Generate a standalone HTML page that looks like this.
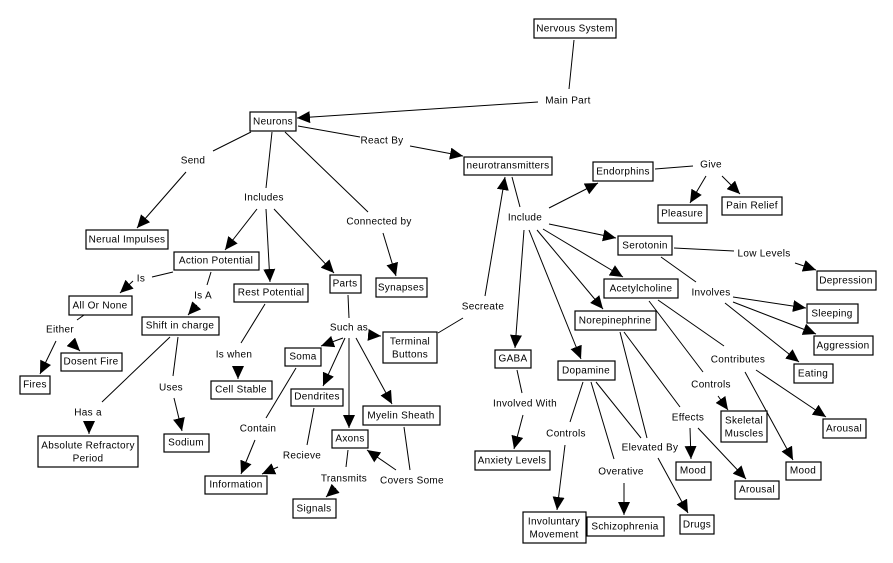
<!DOCTYPE html>
<html><head><meta charset="utf-8"><style>
html,body{margin:0;padding:0;background:#fff;}
svg{display:block;}
text{font-family:"Liberation Sans",Arial,sans-serif;font-size:10px;fill:#000;text-anchor:middle;dominant-baseline:central;letter-spacing:0.3px;}
rect{fill:#fff;stroke:#000;stroke-width:1.2;}
line{stroke:#000;stroke-width:1;}
</style></head><body>
<svg width="893" height="563" viewBox="0 0 893 563" xmlns="http://www.w3.org/2000/svg">
<defs><marker id="a" markerUnits="userSpaceOnUse" markerWidth="14" markerHeight="12" refX="13" refY="6" orient="auto"><path d="M0,0 L13,6 L0,12 z" fill="#000"/></marker></defs>
<g>
<!-- plain lines -->
<line x1="574" y1="40" x2="569" y2="89"/>
<line x1="298" y1="126" x2="360" y2="137"/>
<line x1="251" y1="132" x2="213" y2="151"/>
<line x1="272" y1="132" x2="266" y2="188"/>
<line x1="285" y1="132" x2="368" y2="212"/>
<line x1="173" y1="272" x2="152" y2="277"/>
<line x1="211" y1="272" x2="207" y2="285"/>
<line x1="84" y1="315" x2="77" y2="320"/>
<line x1="170" y1="337" x2="102" y2="402"/>
<line x1="178" y1="337" x2="173" y2="376"/>
<line x1="265" y1="304" x2="241" y2="343"/>
<line x1="348" y1="295" x2="349" y2="318"/>
<line x1="296" y1="368" x2="266" y2="418"/>
<line x1="314" y1="408" x2="307" y2="445"/>
<line x1="348" y1="450" x2="346" y2="467"/>
<line x1="404" y1="427" x2="410" y2="470"/>
<line x1="438" y1="333" x2="463" y2="318"/>
<line x1="512" y1="177" x2="520" y2="207"/>
<line x1="655" y1="169" x2="693" y2="166"/>
<line x1="674" y1="248" x2="734" y2="251"/>
<line x1="661" y1="257" x2="696" y2="282"/>
<line x1="658" y1="300" x2="724" y2="346"/>
<line x1="649" y1="301" x2="703" y2="372"/>
<line x1="624" y1="332" x2="680" y2="407"/>
<line x1="620" y1="332" x2="647" y2="438"/>
<line x1="596" y1="382" x2="641" y2="438"/>
<line x1="583" y1="382" x2="570" y2="422"/>
<line x1="591" y1="382" x2="614" y2="459"/>
<line x1="517" y1="370" x2="522" y2="393"/>
<!-- arrows -->
<g marker-end="url(#a)">
<line x1="538" y1="102" x2="297" y2="118"/>
<line x1="410" y1="146" x2="463" y2="156"/>
<line x1="186" y1="172" x2="137" y2="228"/>
<line x1="257" y1="209" x2="225" y2="250"/>
<line x1="266" y1="209" x2="270" y2="282"/>
<line x1="274" y1="209" x2="334" y2="273"/>
<line x1="383" y1="233" x2="396" y2="276"/>
<line x1="133" y1="281" x2="120" y2="293"/>
<line x1="197" y1="305" x2="188" y2="315"/>
<line x1="56" y1="341" x2="40" y2="374"/>
<line x1="71" y1="342" x2="80" y2="351"/>
<line x1="89" y1="424" x2="89" y2="434"/>
<line x1="174" y1="398" x2="182" y2="431"/>
<line x1="238" y1="366" x2="238" y2="379"/>
<line x1="343" y1="338" x2="321" y2="346"/>
<line x1="369" y1="335" x2="381" y2="336"/>
<line x1="345" y1="338" x2="323" y2="386"/>
<line x1="349" y1="338" x2="349" y2="428"/>
<line x1="356" y1="338" x2="392" y2="404"/>
<line x1="255" y1="440" x2="241" y2="474"/>
<line x1="278" y1="467" x2="262" y2="474"/>
<line x1="336" y1="488" x2="326" y2="497"/>
<line x1="396" y1="470" x2="367" y2="450"/>
<line x1="485" y1="296" x2="505" y2="177"/>
<line x1="549" y1="208" x2="598" y2="183"/>
<line x1="549" y1="224" x2="616" y2="238"/>
<line x1="543" y1="229" x2="623" y2="277"/>
<line x1="537" y1="230" x2="603" y2="309"/>
<line x1="524" y1="230" x2="515" y2="348"/>
<line x1="529" y1="230" x2="581" y2="359"/>
<line x1="706" y1="176" x2="690" y2="203"/>
<line x1="722" y1="176" x2="740" y2="194"/>
<line x1="795" y1="263" x2="816" y2="270"/>
<line x1="733" y1="297" x2="806" y2="308"/>
<line x1="733" y1="302" x2="816" y2="334"/>
<line x1="725" y1="303" x2="799" y2="362"/>
<line x1="756" y1="370" x2="826" y2="417"/>
<line x1="745" y1="372" x2="793" y2="460"/>
<line x1="718" y1="396" x2="728" y2="410"/>
<line x1="690" y1="428" x2="691" y2="459"/>
<line x1="698" y1="428" x2="746" y2="479"/>
<line x1="658" y1="458" x2="688" y2="513"/>
<line x1="565" y1="445" x2="557" y2="510"/>
<line x1="624" y1="483" x2="624" y2="515"/>
<line x1="523" y1="415" x2="514" y2="449"/>
</g>
</g>
<!-- boxes -->
<g>
<rect x="534" y="19" width="82" height="19"/><text x="575" y="29">Nervous System</text>
<rect x="250" y="112" width="46" height="19"/><text x="273" y="122">Neurons</text>
<rect x="464" y="157" width="88" height="18"/><text x="508" y="166">neurotransmitters</text>
<rect x="86" y="230" width="82" height="19"/><text x="127" y="240">Nerual Impulses</text>
<rect x="174" y="252" width="85" height="18"/><text x="216" y="261">Action Potential</text>
<rect x="234" y="284" width="74" height="18"/><text x="271" y="293">Rest Potential</text>
<rect x="330" y="275" width="31" height="18"/><text x="345" y="284">Parts</text>
<rect x="376" y="278" width="51" height="19"/><text x="401" y="288">Synapses</text>
<rect x="69" y="296" width="63" height="19"/><text x="100" y="306">All Or None</text>
<rect x="142" y="317" width="77" height="18"/><text x="180" y="326">Shift in charge</text>
<rect x="61" y="353" width="61" height="18"/><text x="91" y="362">Dosent Fire</text>
<rect x="20" y="376" width="30" height="18"/><text x="35" y="385">Fires</text>
<rect x="38" y="436" width="100" height="31"/><text x="88" y="446">Absolute Refractory</text><text x="88" y="459">Period</text>
<rect x="164" y="434" width="45" height="18"/><text x="186" y="443">Sodium</text>
<rect x="211" y="381" width="61" height="18"/><text x="241" y="390">Cell Stable</text>
<rect x="285" y="348" width="36" height="18"/><text x="303" y="357">Soma</text>
<rect x="383" y="332" width="54" height="31"/><text x="410" y="342">Terminal</text><text x="410" y="355">Buttons</text>
<rect x="291" y="389" width="52" height="17"/><text x="317" y="397">Dendrites</text>
<rect x="363" y="406" width="77" height="19"/><text x="401" y="416">Myelin Sheath</text>
<rect x="332" y="430" width="36" height="18"/><text x="350" y="439">Axons</text>
<rect x="205" y="476" width="62" height="18"/><text x="236" y="485">Information</text>
<rect x="293" y="499" width="43" height="19"/><text x="314" y="509">Signals</text>
<rect x="593" y="162" width="60" height="19"/><text x="623" y="172">Endorphins</text>
<rect x="658" y="205" width="49" height="18"/><text x="682" y="214">Pleasure</text>
<rect x="722" y="197" width="60" height="18"/><text x="752" y="206">Pain Relief</text>
<rect x="618" y="236" width="54" height="19"/><text x="645" y="246">Serotonin</text>
<rect x="817" y="271" width="59" height="19"/><text x="846" y="281">Depression</text>
<rect x="604" y="279" width="74" height="19"/><text x="641" y="289">Acetylcholine</text>
<rect x="807" y="304" width="51" height="19"/><text x="832" y="314">Sleeping</text>
<rect x="814" y="336" width="59" height="19"/><text x="843" y="346">Aggression</text>
<rect x="575" y="311" width="81" height="19"/><text x="615" y="321">Norepinephrine</text>
<rect x="794" y="364" width="39" height="19"/><text x="813" y="374">Eating</text>
<rect x="495" y="350" width="36" height="18"/><text x="513" y="359">GABA</text>
<rect x="558" y="361" width="57" height="19"/><text x="586" y="371">Dopamine</text>
<rect x="721" y="411" width="46" height="31"/><text x="744" y="421">Skeletal</text><text x="744" y="434">Muscles</text>
<rect x="823" y="419" width="43" height="19"/><text x="844" y="429">Arousal</text>
<rect x="676" y="462" width="35" height="18"/><text x="693" y="471">Mood</text>
<rect x="735" y="481" width="44" height="18"/><text x="757" y="490">Arousal</text>
<rect x="786" y="462" width="35" height="18"/><text x="803" y="471">Mood</text>
<rect x="475" y="451" width="75" height="19"/><text x="512" y="461">Anxiety Levels</text>
<rect x="523" y="512" width="63" height="31"/><text x="554" y="522">Involuntary</text><text x="554" y="535">Movement</text>
<rect x="587" y="517" width="77" height="19"/><text x="625" y="527">Schizophrenia</text>
<rect x="680" y="515" width="34" height="19"/><text x="697" y="525">Drugs</text>
</g>
<!-- labels -->
<g>
<text x="568" y="101">Main Part</text>
<text x="382" y="141">React By</text>
<text x="193" y="161">Send</text>
<text x="264" y="198">Includes</text>
<text x="379" y="222">Connected by</text>
<text x="141" y="279">Is</text>
<text x="203" y="296">Is A</text>
<text x="60" y="330">Either</text>
<text x="171" y="388">Uses</text>
<text x="88" y="413">Has a</text>
<text x="234" y="355">Is when</text>
<text x="349" y="328">Such as</text>
<text x="258" y="429">Contain</text>
<text x="302" y="456">Recieve</text>
<text x="344" y="479">Transmits</text>
<text x="412" y="481">Covers Some</text>
<text x="483" y="307">Secreate</text>
<text x="525" y="218">Include</text>
<text x="711" y="165">Give</text>
<text x="764" y="254">Low Levels</text>
<text x="711" y="293">Involves</text>
<text x="738" y="360">Contributes</text>
<text x="711" y="385">Controls</text>
<text x="525" y="404">Involved With</text>
<text x="688" y="418">Effects</text>
<text x="566" y="434">Controls</text>
<text x="650" y="448">Elevated By</text>
<text x="621" y="472">Overative</text>
</g>
</svg>
</body></html>
